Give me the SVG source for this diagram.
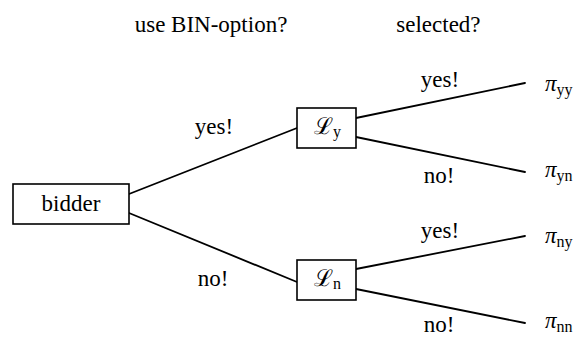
<svg xmlns="http://www.w3.org/2000/svg" width="576" height="338" viewBox="0 0 576 338">
<style>
.box{fill:#fff;stroke:#000;stroke-width:1.6}
.e{stroke:#000;stroke-width:1.8;fill:none;stroke-linecap:round}
</style>
<rect width="576" height="338" fill="#fff"/>
<g font-family="'Liberation Serif','Times New Roman','DejaVu Serif',serif" font-size="23" fill="#000">
<text x="134.7" y="32">use BIN-option?</text>
<text x="396.3" y="32">selected?</text>
<g id="connectors">
<line class="e" x1="129" y1="194" x2="297" y2="128"/>
<line class="e" x1="129" y1="213" x2="297" y2="282"/>
<line class="e" x1="356" y1="118" x2="525" y2="83"/>
<line class="e" x1="356" y1="137" x2="525" y2="172"/>
<line class="e" x1="356" y1="269" x2="525" y2="236"/>
<line class="e" x1="356" y1="289" x2="525" y2="323"/>
<text x="194.8" y="134">yes!</text>
<text x="197.7" y="286">no!</text>
<text x="420.8" y="87">yes!</text>
<text x="423.7" y="183">no!</text>
<text x="420.8" y="238">yes!</text>
<text x="423.7" y="332">no!</text>
</g>
<g id="bidder">
<rect class="box" x="13" y="184" width="116" height="40"/>
<text x="41.6" y="211">bidder</text>
</g>
<g id="Ly">
<rect class="box" x="297" y="108" width="59" height="40"/>
<text x="314" y="134">ℒ<tspan dy="3" font-size="16">y</tspan></text>
</g>
<g id="Ln">
<rect class="box" x="297" y="260" width="59" height="40"/>
<text x="314" y="286">ℒ<tspan dy="3" font-size="16">n</tspan></text>
</g>
<g id="pi_yy"><text x="545" y="91"><tspan font-style="italic">π</tspan><tspan dy="4" font-size="16">yy</tspan></text></g>
<g id="pi_yn"><text x="545" y="177"><tspan font-style="italic">π</tspan><tspan dy="4" font-size="16">yn</tspan></text></g>
<g id="pi_ny"><text x="545" y="243"><tspan font-style="italic">π</tspan><tspan dy="4" font-size="16">ny</tspan></text></g>
<g id="pi_nn"><text x="545" y="328"><tspan font-style="italic">π</tspan><tspan dy="4" font-size="16">nn</tspan></text></g>
</g>
</svg>
